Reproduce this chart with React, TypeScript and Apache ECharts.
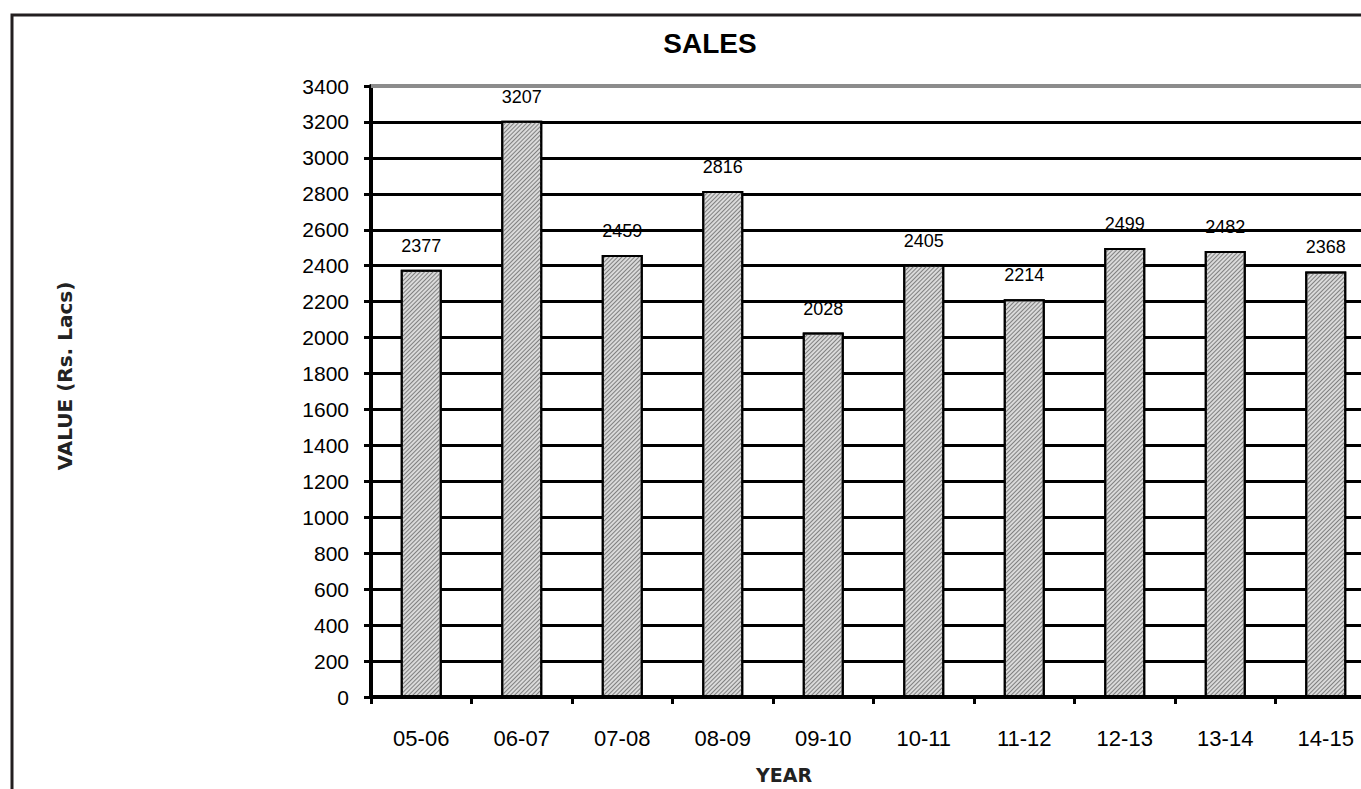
import React, { useEffect, useRef } from "react";
import * as echarts from "echarts";

const years = ["05-06", "06-07", "07-08", "08-09", "09-10", "10-11", "11-12", "12-13", "13-14", "14-15"];
const sales = [2377, 3207, 2459, 2816, 2028, 2405, 2214, 2499, 2482, 2368];
const yMin = 0;
const yMax = 3400;
const yStep = 200;
const titleText = "SALES";
const yAxisTitle = "VALUE (Rs. Lacs)";
const xAxisTitle = "YEAR";

export default function App() {
  const ref = useRef<HTMLDivElement>(null);
  useEffect(() => {
    if (!ref.current) return;
    const chart = echarts.init(ref.current, null, { renderer: "svg" });
    const font = "'Liberation Sans', Arial, sans-serif";
    chart.setOption({
      animation: false,
      backgroundColor: "#ffffff",
      grid: {
        left: 371,
        top: 86,
        height: 611,
        width: 1005,
        containLabel: false,
        outerBoundsMode: "none",
      },
      graphic: [
        {
          type: "rect",
          shape: { x: 12, y: 15, width: 1500, height: 900 },
          style: { fill: "none", stroke: "#231f20", lineWidth: 3 },
          silent: true,
        },
        {
          type: "text",
          x: 710,
          y: 43,
          style: {
            text: titleText,
            font: `bold 28px ${font}`,
            fill: "#000",
            align: "center",
            verticalAlign: "middle",
          },
        },
        {
          type: "text",
          x: 784,
          y: 775,
          style: {
            text: xAxisTitle,
            font: "bold 19px 'DejaVu Sans', sans-serif",
            fill: "#222",
            align: "center",
            verticalAlign: "middle",
          },
        },
        {
          type: "text",
          x: 65,
          y: 376,
          rotation: Math.PI / 2,
          style: {
            text: yAxisTitle,
            font: "bold 20px 'DejaVu Sans', sans-serif",
            fill: "#222",
            align: "center",
            verticalAlign: "middle",
          },
        },
      ],
      xAxis: {
        type: "category",
        data: years,
        axisLine: { show: true, lineStyle: { color: "#000", width: 4 } },
        axisTick: { show: true, length: 7, lineStyle: { color: "#000", width: 3 } },
        axisLabel: { color: "#000", fontSize: 22, fontFamily: font, margin: 30 },
        splitLine: { show: false },
      },
      yAxis: {
        type: "value",
        min: yMin,
        max: yMax,
        interval: yStep,
        axisLine: { show: true, lineStyle: { color: "#000", width: 4 } },
        axisTick: { show: true, length: 7, lineStyle: { color: "#000", width: 3 } },
        axisLabel: {
          color: "#000",
          fontSize: 21,
          fontFamily: font,
          margin: 22,
          formatter: (v: number) => String(v),
        },
        splitLine: {
          show: true,
          showMinLine: false,
          showMaxLine: false,
          lineStyle: { color: "#000", width: 3 },
        },
      },
      series: [
        {
          type: "bar",
          data: sales,
          barWidth: 41,
          itemStyle: {
            color: "#dadada",
            borderColor: "#000",
            borderWidth: 2,
            decal: {
              symbol: "rect",
              symbolSize: 1,
              rotation: -Math.PI / 4,
              dashArrayX: [[1, 0]],
              dashArrayY: [1, 1.5],
              color: "#808080",
            },
          },
          label: {
            show: true,
            position: "top",
            distance: 15,
            color: "#000",
            fontSize: 18,
            fontFamily: font,
          },
          markLine: {
            silent: true,
            symbol: "none",
            label: { show: false },
            lineStyle: { color: "#8c8c8c", width: 4, type: "solid" },
            data: [{ yAxis: yMax }],
          },
        },
      ],
    });
    return () => chart.dispose();
  }, []);
  return (
    <div
      ref={ref}
      style={{ position: "fixed", left: 0, top: 0, width: 1361, height: 789, background: "#fff" }}
    />
  );
}
